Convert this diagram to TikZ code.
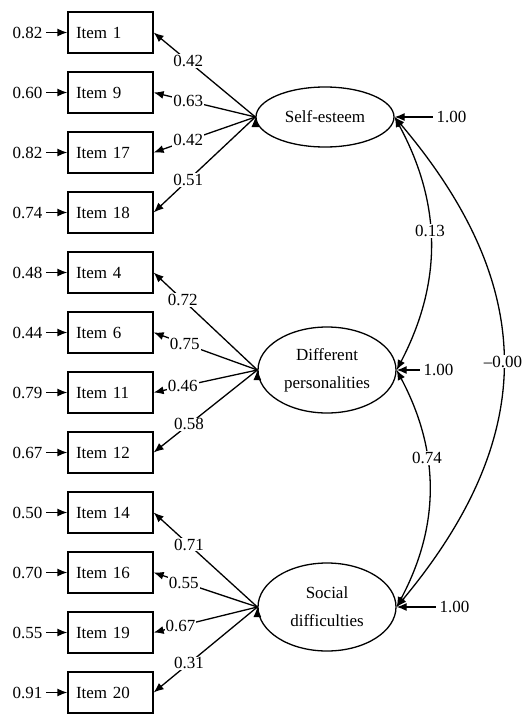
\documentclass[tikz,border=0pt]{standalone}
\usepackage{fontspec}
\setmainfont{Liberation Serif}
\usetikzlibrary{arrows.meta,positioning,shapes.geometric}

\begin{document}
\begin{tikzpicture}[x=1pt,y=-1pt,node distance=60pt,line width=1.3pt,
  >={Latex[length=10pt,width=8pt]},font=\fontsize{17}{28}\selectfont,
  item/.style={draw,rectangle,text width=69pt,inner xsep=8pt,minimum height=41pt,align=left},
  latent/.style={draw,ellipse,minimum width=138pt,inner sep=0pt,align=center},
  lbl/.style={fill=white,inner sep=1pt}]
   \useasboundingbox (0,0) rectangle (527,715);
   % observed items
   \node[item] (i1) at (110.5,32.5) {Item 1};
   \node[item,below of=i1] (i9) {Item 9};
   \node[item,below of=i9] (i17) {Item 17};
   \node[item,below of=i17] (i18) {Item 18};
   \node[item,below of=i18] (i4) {Item 4};
   \node[item,below of=i4] (i6) {Item 6};
   \node[item,below of=i6] (i11) {Item 11};
   \node[item,below of=i11] (i12) {Item 12};
   \node[item,below of=i12] (i14) {Item 14};
   \node[item,below of=i14] (i16) {Item 16};
   \node[item,below of=i16] (i19) {Item 19};
   \node[item,below of=i19] (i20) {Item 20};
   % error terms
   \node[left=21pt of i1] (e1) {0.82};   \node[left=21pt of i9] (e9) {0.60};
   \node[left=21pt of i17] (e17) {0.82}; \node[left=21pt of i18] (e18) {0.74};
   \node[left=21pt of i4] (e4) {0.48};   \node[left=21pt of i6] (e6) {0.44};
   \node[left=21pt of i11] (e11) {0.79}; \node[left=21pt of i12] (e12) {0.67};
   \node[left=21pt of i14] (e14) {0.50}; \node[left=21pt of i16] (e16) {0.70};
   \node[left=21pt of i19] (e19) {0.55}; \node[left=21pt of i20] (e20) {0.91};
   \draw[->] (e1) edge (i1) (e9) edge (i9) (e17) edge (i17) (e18) edge (i18)
     (e4) edge (i4) (e6) edge (i6) (e11) edge (i11) (e12) edge (i12)
     (e14) edge (i14) (e16) edge (i16) (e19) edge (i19) (e20) edge (i20);
   % latent factors
   \node[latent,minimum height=60pt] (se) at (325,117) {Self-esteem};
   \node[latent,minimum height=86pt] (dp) at (327,370) {Different\\personalities};
   \node[latent,minimum height=88pt] (sd) at (327,607) {Social\\difficulties};
   % loadings
   \draw[->] (se.west) edge node[lbl,pos=.66] {0.42} (i1.east)
     (se.west) edge node[lbl,pos=.66] {0.63} (i9.east)
     (se.west) edge node[lbl,pos=.66] {0.42} (i17.east)
     (se.west) edge node[lbl,pos=.66] {0.51} (i18.east);
   \draw[->] (dp.west) edge node[lbl,pos=.72] {0.72} (i4.east)
     (dp.west) edge node[lbl,pos=.70] {0.75} (i6.east)
     (dp.west) edge node[lbl,pos=.72] {0.46} (i11.east)
     (dp.west) edge node[lbl,pos=.66] {0.58} (i12.east);
   \draw[->] (sd.west) edge node[lbl,pos=.66] {0.71} (i14.east)
     (sd.west) edge node[lbl,pos=.71] {0.55} (i16.east)
     (sd.west) edge node[lbl,pos=.74] {0.67} (i19.east)
     (sd.west) edge node[lbl,pos=.66] {0.31} (i20.east);
   % factor variances
   \node[right=38pt of se] (v1) {1.00};
   \node[right=23pt of dp] (v2) {1.00};
   \node[right=39pt of sd] (v3) {1.00};
   \draw[->] (v1) -- (se.east);
   \draw[->] (v2) -- (dp.east);
   \draw[->] (v3) -- (sd.east);
   % covariances
   \draw[<->] (se.east) to[bend left=28] node[lbl,pos=.45] {0.13} (dp.east);
   \draw[<->] (dp.east) to[bend left=28] node[lbl,pos=.37] {0.74} (sd.east);
   \draw[<->] (se.east) to[bend left=40,looseness=1.16] node[lbl] {--0.00} (sd.east);
\end{tikzpicture}
\end{document}
